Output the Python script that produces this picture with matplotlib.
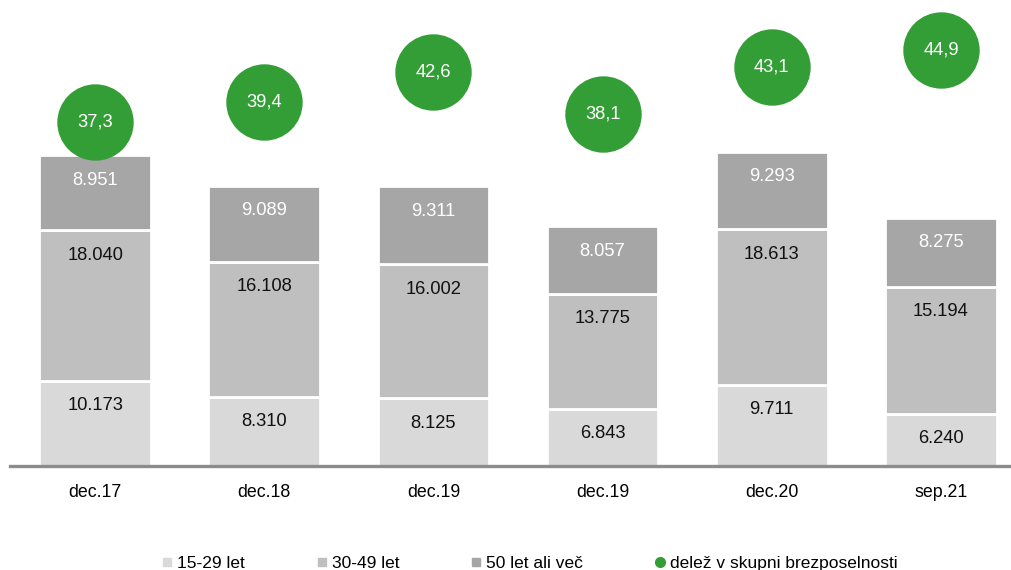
import matplotlib
matplotlib.use("Agg")
import matplotlib.pyplot as plt
from matplotlib.lines import Line2D
import numpy as np

categories = ["dec.17", "dec.18", "dec.19", "dec.19", "dec.20", "sep.21"]
age_15_29 = [10173, 8310, 8125, 6843, 9711, 6240]
age_30_49 = [18040, 16108, 16002, 13775, 18613, 15194]
age_50_plus = [8951, 9089, 9311, 8057, 9293, 8275]
share = [37.3, 39.4, 42.6, 38.1, 43.1, 44.9]
series_names = ["15-29 let", "30-49 let", "50 let ali več", "delež v skupni brezposelnosti"]

colors = ["#d9d9d9", "#bfbfbf", "#a6a6a6"]
label_colors = ["#111111", "#111111", "#ffffff"]
green = "#339e35"

plt.rcParams['font.family'] = ['Liberation Sans', 'DejaVu Sans']

W, H = 1011, 570
fig = plt.figure(figsize=(W / 100, H / 100), dpi=100)
ax = fig.add_axes([10 / W, 1 - 466 / H, 1 - 10 / W, 466 / H])

x = np.arange(len(categories))
bottom = np.zeros(len(categories))
for vals, col, lc in zip([age_15_29, age_30_49, age_50_plus], colors, label_colors):
    ax.bar(x, vals, width=0.66, bottom=bottom, color=col, edgecolor="white", linewidth=2, zorder=2)
    for xi, b, v in zip(x, bottom, vals):
        ax.annotate(f"{v:,}".replace(",", "."), (xi, b + v), xytext=(0, -18),
                    textcoords="offset points", ha="center", va="center",
                    fontsize=13.2, color=lc, zorder=3)
    bottom = bottom + np.array(vals)

ax.set_xlim(-0.503, 5.414)
ax.set_ylim(0, 55742)
ax.set_yticks([])
ax.set_xticks(x)
ax.set_xticklabels(categories, fontsize=12.8)
ax.tick_params(axis="x", length=0, pad=13)
for s in ["top", "left", "right"]:
    ax.spines[s].set_visible(False)
ax.spines["bottom"].set_color("#8c8c8c")
ax.spines["bottom"].set_linewidth(2.4)
ax.spines["bottom"].set_zorder(4)

ax2 = ax.twinx()
ax2.set_ylim(0.71, 50.23)
ax2.plot(x, share, linestyle="none", marker="o", markersize=54, color=green, zorder=5)
for xi, v in zip(x, share):
    ax2.text(xi, v, f"{v:.1f}".replace(".", ","), ha="center", va="center",
             fontsize=13.2, color="white", zorder=6)
ax2.set_yticks([])
for s in ["top", "left", "right", "bottom"]:
    ax2.spines[s].set_visible(False)

handles = [Line2D([], [], linestyle="none", marker="s", markersize=6, color=c) for c in colors]
handles.append(Line2D([], [], linestyle="none", marker="o", markersize=7, color=green))
fig.legend(handles, series_names, loc="center", bbox_to_anchor=(0.524, 1 - 563 / H),
           ncol=4, frameon=False, fontsize=12.5, handlelength=0.6, handletextpad=0.3,
           columnspacing=4.1, borderaxespad=0, borderpad=0)

fig.savefig("out.png", dpi=100)
